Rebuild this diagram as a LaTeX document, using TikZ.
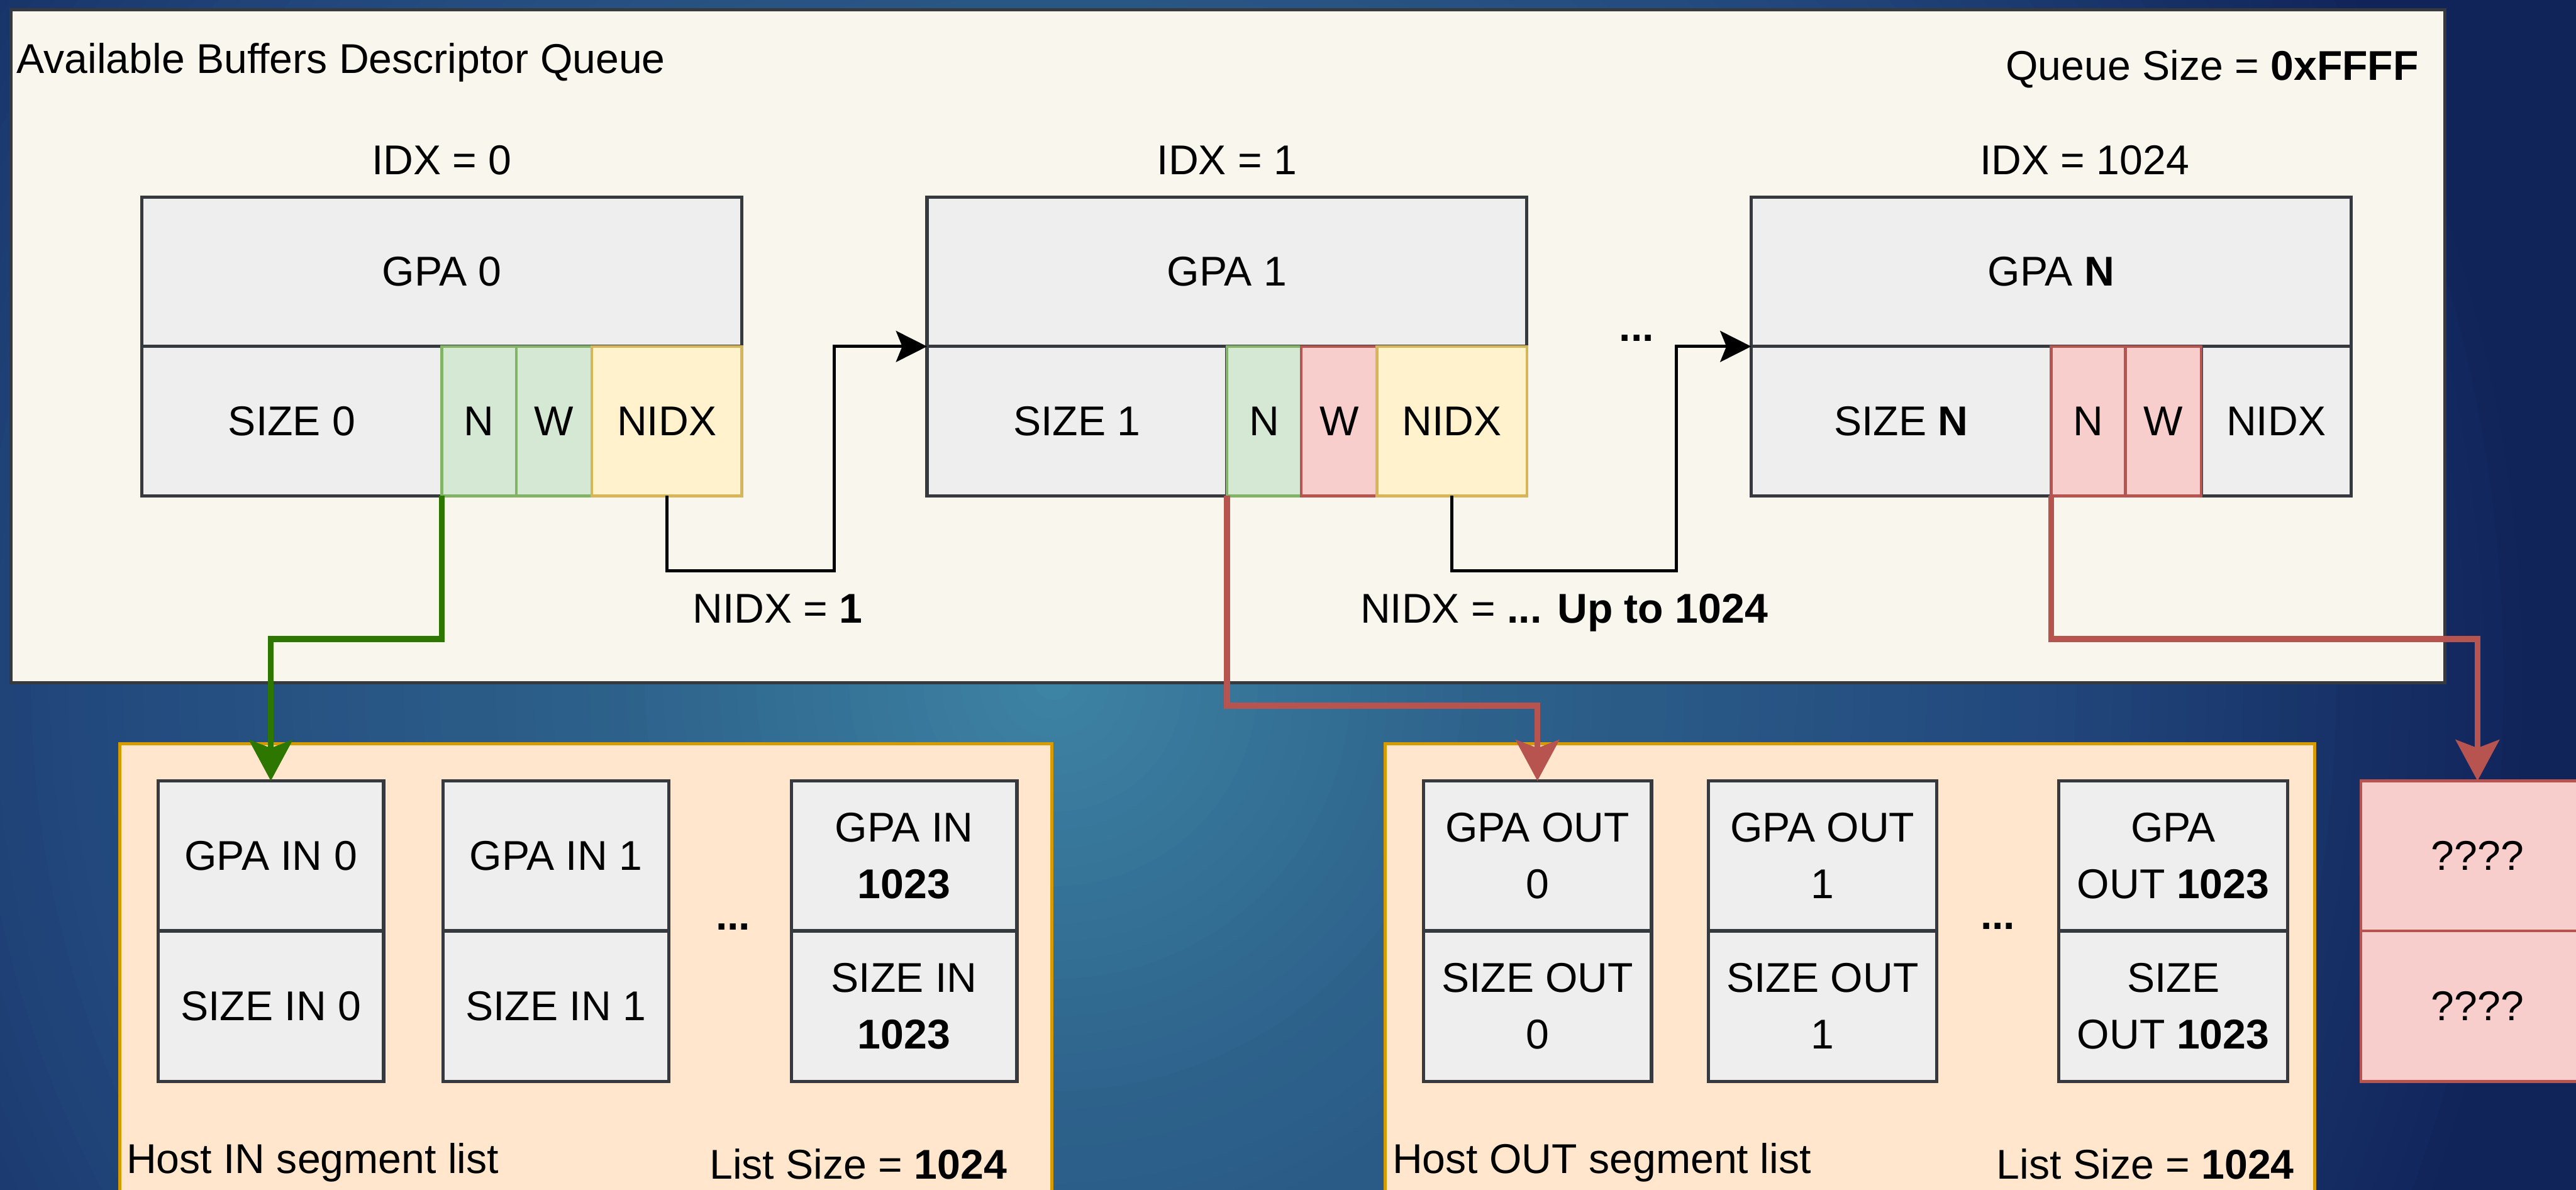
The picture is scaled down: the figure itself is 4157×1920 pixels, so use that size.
\documentclass[tikz,border=0pt]{standalone}
\usepackage{fontspec}
\setmainfont{Liberation Sans}
\usetikzlibrary{arrows.meta,calc}

\definecolor{glowA}{HTML}{3E84A4}
\definecolor{glowB}{HTML}{2D628B}
\definecolor{glowC}{HTML}{22487D}
\definecolor{glowD}{HTML}{10245A}
\definecolor{queuefill}{HTML}{F9F7ED}
\definecolor{darkline}{HTML}{36393D}
\definecolor{cellfill}{HTML}{EEEEEE}
\definecolor{greenfill}{HTML}{D5E8D4}
\definecolor{greenline}{HTML}{82B366}
\definecolor{yellowfill}{HTML}{FFF2CC}
\definecolor{yellowline}{HTML}{D6B656}
\definecolor{redfill}{HTML}{F8CECC}
\definecolor{redline}{HTML}{B85450}
\definecolor{listfill}{HTML}{FFE6CC}
\definecolor{listline}{HTML}{D79B00}
\definecolor{greenarrow}{HTML}{2D7600}

% rectangle placed by its top-left corner: [style]{name}{x}{y}{w}{h}{text}
\newcommand\boxat[7][]{%
  \node[#1,anchor=north west,minimum width=#5*0.01cm,minimum height=#6*0.01cm] (#2) at (#3,#4) {#7};}

\begin{document}
\begin{tikzpicture}[x=0.01cm,y=-0.01cm,
  every node/.style={font=\fontsize{19.1}{25.9}\selectfont, inner sep=0pt, outer sep=0pt},
  queuebox/.style={draw=darkline, fill=queuefill, line width=1.5pt},
  listbox/.style={draw=listline, fill=listfill, line width=1.5pt},
  cellbox/.style={draw=darkline, fill=cellfill, line width=1.5pt},
  greencell/.style={draw=greenline, fill=greenfill, line width=1.3pt},
  yellowcell/.style={draw=yellowline, fill=yellowfill, line width=1.3pt},
  redcell/.style={draw=redline, fill=redfill, line width=1.3pt},
  link/.style={draw=black, line width=1.5pt, -{Stealth[length=0.5cm,width=0.5cm,inset=0.1cm]}},
  greenlink/.style={draw=greenarrow, line width=2.8pt, -{Stealth[length=0.66cm,width=0.7cm,inset=0.13cm]}},
  redlink/.style={draw=redline, line width=2.8pt, -{Stealth[length=0.66cm,width=0.7cm,inset=0.13cm]}},
  label/.style={anchor=base}]

\useasboundingbox (0,0) rectangle (4157,1920);

% background: dark navy with a soft teal glow, built from concentric discs
\begin{scope}
  \clip (0,0) rectangle (4157,1920);
  \fill[glowD] (0,0) rectangle (4157,1920);
  \foreach \rad in {2400,2370,...,30}{
    \ifnum\rad>1600
      \pgfmathsetmacro\pct{(\rad-1600)/8}\colorlet{bgtmp}{glowD!\pct!glowC}%
    \else\ifnum\rad>700
      \pgfmathsetmacro\pct{(\rad-700)/9}\colorlet{bgtmp}{glowC!\pct!glowB}%
    \else
      \pgfmathsetmacro\pct{\rad/7}\colorlet{bgtmp}{glowB!\pct!glowA}%
    \fi\fi
    \fill[bgtmp] (1700,1100) circle [radius=\rad*0.01cm];
  }
\end{scope}

% descriptor queue frame
\boxat[queuebox]{queue}{18}{16}{3927}{1086}{}
\node[anchor=base west] (qtitle) at (27,118) {Available Buffers Descriptor Queue};
\node[anchor=base east] (qsize) at (3903,129) {Queue Size = \textbf{0xFFFF}};

% descriptor 0
\node[label] (idx0) at (713,282) {IDX = 0};
\boxat[cellbox]{gpa0}{229}{318}{968}{241}{GPA 0}
\boxat[cellbox]{size0}{229}{559}{484}{241}{SIZE 0}
\boxat[greencell]{n0}{713}{559}{120}{241}{N}
\boxat[greencell]{w0}{833}{559}{122}{241}{W}
\boxat[yellowcell]{nidx0}{955}{559}{242}{241}{NIDX}

% descriptor 1
\node[label] (idx1) at (1980,282) {IDX = 1};
\boxat[cellbox]{gpa1}{1496}{318}{968}{241}{GPA 1}
\boxat[cellbox]{size1}{1496}{559}{484}{241}{SIZE 1}
\boxat[greencell]{n1}{1980}{559}{120}{241}{N}
\boxat[redcell]{w1}{2100}{559}{122}{241}{W}
\boxat[yellowcell]{nidx1}{2222}{559}{242}{241}{NIDX}

% descriptor N
\node[label] (idxN) at (3364,282) {IDX = 1024};
\boxat[cellbox]{gpaN}{2826}{318}{968}{241}{GPA \textbf{N}}
\boxat[cellbox]{sizeN}{2826}{559}{484}{241}{SIZE \textbf{N}}
\boxat[cellbox]{nidxN}{3552}{559}{242}{241}{NIDX}
\boxat[redcell]{nN}{3310}{559}{120}{241}{N}
\boxat[redcell]{wN}{3430}{559}{122}{241}{W}

\node[label] (dotsQ) at (2641,551) {\textbf{...}};
\node[label] (nlab1) at (1255,1005) {NIDX = \textbf{1}};
\node[label] (nlab2) at (2524,1005) {NIDX = \textbf{... Up to 1024}};

% next-index links
\draw[link] (nidx0.south) -- ++(0,121) -| ($(gpa1.south west)+(-150,0)$) -- (gpa1.south west);
\draw[link] (nidx1.south) -- ++(0,121) -| ($(gpaN.south west)+(-121,0)$) -- (gpaN.south west);

% host IN segment list
\boxat[listbox]{inlist}{193}{1200}{1504}{800}{}
\boxat[cellbox]{gin0}{255}{1260}{364}{242}{GPA IN 0}
\boxat[cellbox]{sin0}{255}{1502}{364}{243}{SIZE IN 0}
\boxat[cellbox]{gin1}{715}{1260}{364}{242}{GPA IN 1}
\boxat[cellbox]{sin1}{715}{1502}{364}{243}{SIZE IN 1}
\boxat[cellbox,align=center]{ginL}{1277}{1260}{364}{242}{GPA IN\\\textbf{1023}}
\boxat[cellbox,align=center]{sinL}{1277}{1502}{364}{243}{SIZE IN\\\textbf{1023}}
\node[label] (dotsIn) at (1183,1500) {\textbf{...}};
\node[anchor=base west] (inname) at (204,1893) {Host IN segment list};
\node[anchor=base east] (insize) at (1625,1902) {List Size = \textbf{1024}};

% host OUT segment list
\boxat[listbox]{outlist}{2235}{1200}{1500}{800}{}
\boxat[cellbox,align=center]{gout0}{2297}{1260}{368}{242}{GPA OUT\\0}
\boxat[cellbox,align=center]{sout0}{2297}{1502}{368}{243}{SIZE OUT\\0}
\boxat[cellbox,align=center]{gout1}{2757}{1260}{368}{242}{GPA OUT\\1}
\boxat[cellbox,align=center]{sout1}{2757}{1502}{368}{243}{SIZE OUT\\1}
\boxat[cellbox,align=center]{goutL}{3322}{1260}{370}{242}{GPA\\OUT \textbf{1023}}
\boxat[cellbox,align=center]{soutL}{3322}{1502}{370}{243}{SIZE\\OUT \textbf{1023}}
\node[label] (dotsOut) at (3224,1499) {\textbf{...}};
\node[anchor=base west] (outname) at (2247,1893) {Host OUT segment list};
\node[anchor=base east] (outsize) at (3702,1902) {List Size = \textbf{1024}};

% unknown target
\boxat[redcell]{unk1}{3810}{1260}{376}{242}{????}
\boxat[redcell]{unk2}{3810}{1502}{376}{243}{????}

% notification / write links
\draw[greenlink] (n0.south west) -- ++(0,231) -| (gin0.north);
\draw[redlink] (n1.south west) -- ++(0,339) -| (gout0.north);
\draw[redlink] (nN.south west) -- ++(0,231) -| (unk1.north);

\end{tikzpicture}
\end{document}
